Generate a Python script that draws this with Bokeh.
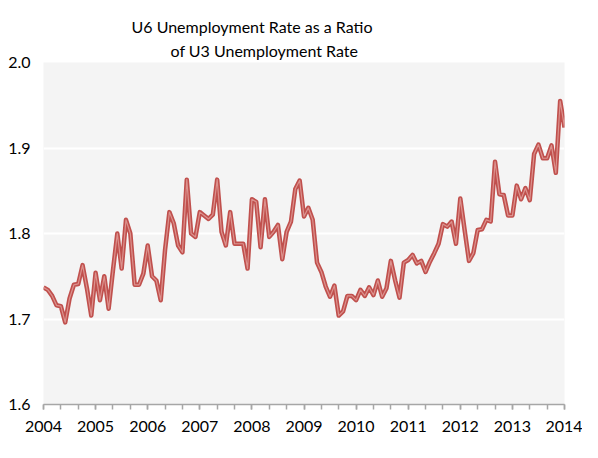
from bokeh.plotting import figure
from bokeh.models import Title, Range1d, SingleIntervalTicker, FixedTicker, PrintfTickFormatter
from bokeh.embed import file_html
from bokeh.resources import INLINE

# U6 / U3 unemployment rate ratio, monthly, Jan 2004 .. Jan 2014
ratio = [
    1.737, 1.734, 1.727, 1.716, 1.715, 1.696, 1.724, 1.740, 1.741, 1.763, 1.736, 1.704,  # 2004
    1.754, 1.722, 1.750, 1.712, 1.757, 1.800, 1.759, 1.816, 1.800, 1.740, 1.740, 1.753,  # 2005
    1.786, 1.750, 1.745, 1.722, 1.781, 1.825, 1.812, 1.786, 1.778, 1.863, 1.800, 1.796,  # 2006
    1.825, 1.821, 1.817, 1.822, 1.863, 1.802, 1.786, 1.825, 1.788, 1.788, 1.788, 1.759,  # 2007
    1.840, 1.837, 1.784, 1.840, 1.796, 1.802, 1.810, 1.770, 1.802, 1.814, 1.852, 1.862,  # 2008
    1.820, 1.830, 1.816, 1.766, 1.755, 1.738, 1.726, 1.739, 1.704, 1.709, 1.727, 1.727,  # 2009
    1.722, 1.734, 1.727, 1.737, 1.728, 1.745, 1.726, 1.736, 1.768, 1.745, 1.725, 1.766,  # 2010
    1.769, 1.775, 1.765, 1.768, 1.755, 1.767, 1.777, 1.788, 1.811, 1.808, 1.814, 1.788,  # 2011
    1.841, 1.804, 1.768, 1.777, 1.804, 1.805, 1.816, 1.814, 1.884, 1.846, 1.845, 1.821,  # 2012
    1.821, 1.856, 1.840, 1.853, 1.839, 1.893, 1.904, 1.888, 1.888, 1.903, 1.871, 1.955,  # 2013
    1.924,                                                                               # 2014
]
start_year = 2004
end_year = 2014
years = [start_year + i / 12 for i in range(len(ratio))]
y_ticks = [1.6, 1.7, 1.8, 1.9, 2.0]

title_line1 = "U6 Unemployment Rate as a Ratio"
title_line2 = "of U3 Unemployment Rate"
font = "Lato"

p = figure(width=582, height=440, output_backend="svg", toolbar_location=None,
           x_range=Range1d(start_year, end_year), y_range=Range1d(1.6, 2.0),
           title=title_line1,
           min_border_left=43, min_border_right=18, min_border_top=62, min_border_bottom=36)

# two title lines, both centred on the same point left of the plot centre
p.title.align = "left"
p.title.offset = 88
p.title.standoff = 0
p.title.text_font = font
p.title.text_font_size = "16px"
p.title.text_font_style = "normal"
p.title.text_color = "black"
p.add_layout(Title(text=title_line2, align="left", offset=127, standoff=6,
                   text_font=font, text_font_size="16px", text_font_style="normal",
                   text_color="black"), "above")

p.background_fill_color = "#f4f4f4"
p.border_fill_color = "white"
p.outline_line_color = None

p.xgrid.visible = False
p.ygrid.ticker = FixedTicker(ticks=y_ticks)
p.ygrid.grid_line_color = "white"
p.ygrid.grid_line_width = 2

p.xaxis.ticker = SingleIntervalTicker(interval=1, num_minor_ticks=3)
p.xaxis.axis_line_color = "#a6a6a6"
p.xaxis.axis_line_width = 1.5
p.xaxis.major_tick_line_color = "#a6a6a6"
p.xaxis.minor_tick_line_color = "#a6a6a6"
p.xaxis.major_tick_line_width = 1.5
p.xaxis.minor_tick_line_width = 1.5
p.xaxis.major_tick_in = 0
p.xaxis.major_tick_out = 5
p.xaxis.minor_tick_in = 0
p.xaxis.minor_tick_out = 5
p.xaxis.major_label_standoff = 11

p.yaxis.ticker = FixedTicker(ticks=y_ticks)
p.yaxis.formatter = PrintfTickFormatter(format="%.1f")
p.yaxis.axis_line_color = None
p.yaxis.major_tick_line_color = None
p.yaxis.minor_tick_line_color = None
p.yaxis.major_label_standoff = 7
p.yaxis.major_label_text_baseline = "top"

for ax in (p.xaxis, p.yaxis):
    ax.major_label_text_font = font
    ax.major_label_text_font_size = "16px"
    ax.major_label_text_color = "black"

p.line(years, ratio, line_color="#c0504d", line_width=4.5, line_join="round")
p.line(years, ratio, line_color="#dc928e", line_width=1.2, line_join="round")

open("out.html", "w").write(file_html(p, INLINE))
